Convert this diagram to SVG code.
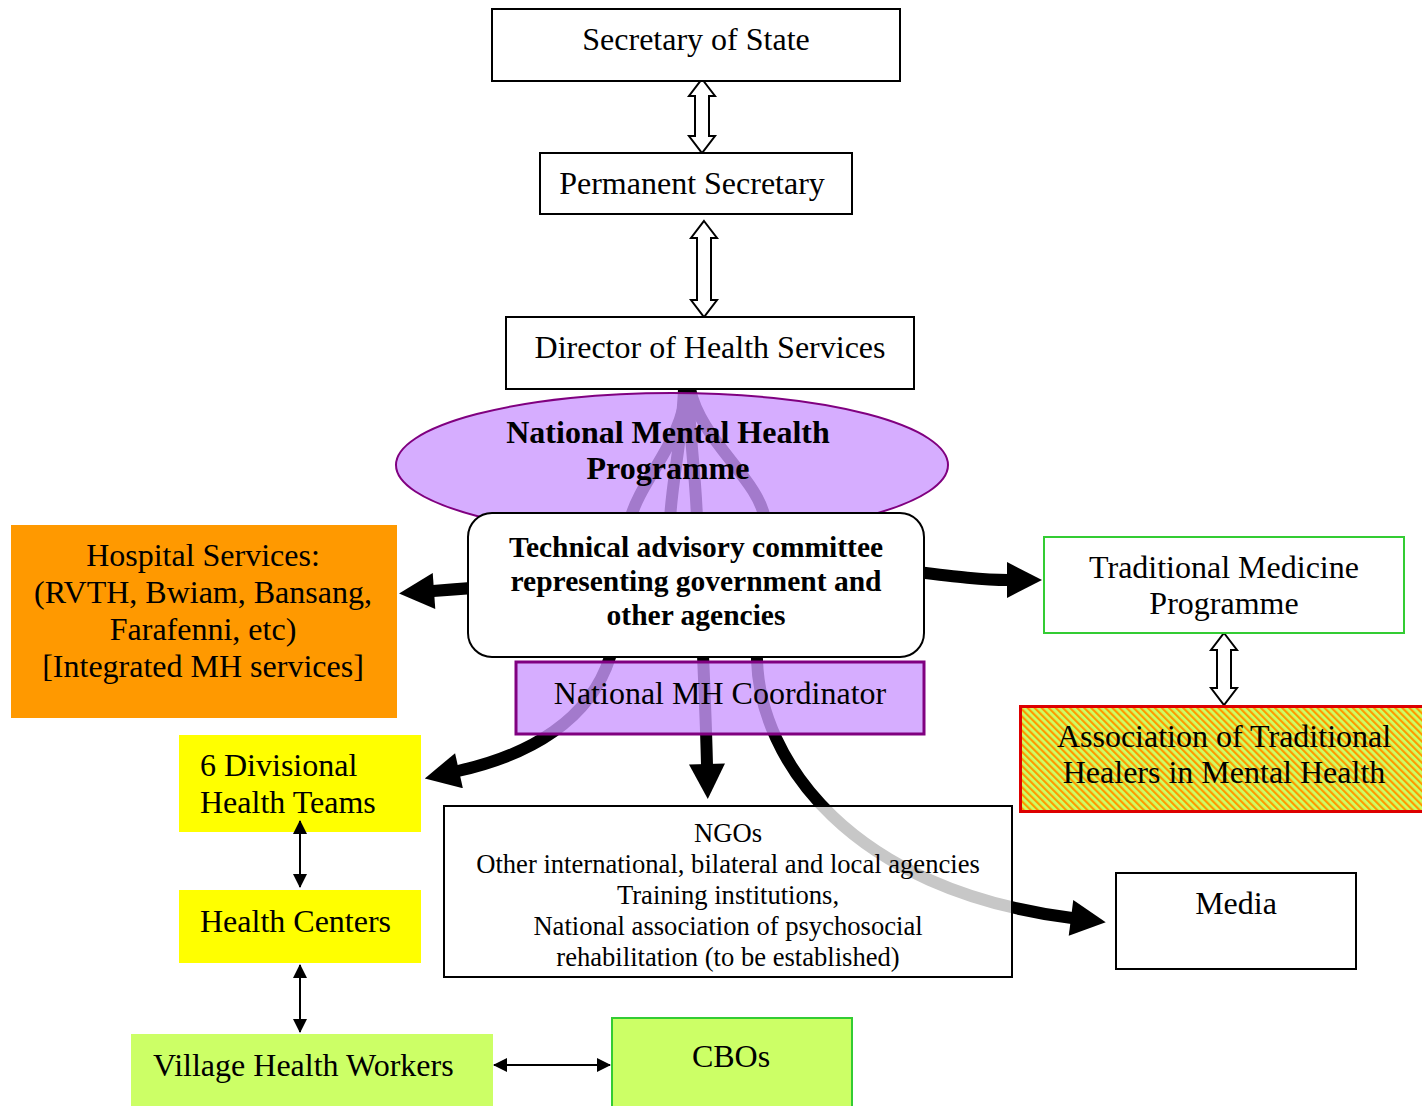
<svg xmlns="http://www.w3.org/2000/svg" width="1422" height="1106" viewBox="0 0 1422 1106">
<style>
text{font-family:"Liberation Serif","Times New Roman",serif;fill:#000}
.t{font-size:32px}
.b{font-size:32px;font-weight:bold}
.tb{font-size:29.5px;font-weight:bold}
.s{font-size:26.6px}
.c{text-anchor:middle}
.box{fill:#fff;stroke:#000;stroke-width:2}
.hollow{fill:#fff;stroke:#000;stroke-width:2;stroke-linejoin:miter}
.thick{fill:none;stroke:#000;stroke-width:12}
.thin{fill:none;stroke:#000;stroke-width:2}
</style>
<defs>
<marker id="big" markerUnits="userSpaceOnUse" markerWidth="36" markerHeight="36" viewBox="0 0 35 36" refX="1" refY="18" orient="auto">
<path d="M0,0 L35,18 L0,36 z" fill="#000"/>
</marker>
<marker id="sm" markerUnits="userSpaceOnUse" markerWidth="14" markerHeight="16" viewBox="0 0 14 16" refX="13" refY="8" orient="auto-start-reverse">
<path d="M0,1 L14,8 L0,15 z" fill="#000"/>
</marker>
<pattern id="hatch" patternUnits="userSpaceOnUse" width="5" height="5" patternTransform="rotate(-45)">
<rect width="5" height="5" fill="#ccff66"/>
<rect width="2.2" height="5" fill="#ff9900"/>
</pattern>
</defs>

<g id="connectors">
<path class="thick" d="M686,389 C684,440 640,480 630,520 C620,560 625,620 610,657 C590,720 530,755 458,771" marker-end="url(#big)"/>
<path class="thick" d="M688,389 C690,440 696,480 697,520 C700,600 705,680 707,765" marker-end="url(#big)"/>
<path class="thick" d="M684,389 C682,440 672,480 670,520 C665,570 560,582 433,591" marker-end="url(#big)"/>
<path class="thick" d="M690,389 C700,440 760,480 765,520 C770,570 755,620 757,660 C760,760 850,890 1072,918" marker-end="url(#big)"/>
<path class="thick" d="M900,570 C950,576 980,580 1008,580" marker-end="url(#big)"/>
<polygon class="hollow" points="702,79 715,96 709,96 709,136 715,136 702,153 689,136 695,136 695,96 689,96"/>
<polygon class="hollow" points="704,221 717,238 711,238 711,300 717,300 704,317 691,300 697,300 697,238 691,238"/>
<polygon class="hollow" points="1224,633 1237,650 1231,650 1231,688 1237,688 1224,705 1211,688 1217,688 1217,650 1211,650"/>
</g>

<g id="secretary">
<rect class="box" x="492" y="9" width="408" height="72"/>
<text class="t c" x="696" y="50">Secretary of State</text>
</g>
<g id="permanent">
<rect class="box" x="540" y="153" width="312" height="61"/>
<text class="t c" x="692" y="194">Permanent Secretary</text>
</g>
<g id="director">
<rect class="box" x="506" y="317" width="408" height="72"/>
<text class="t c" x="710" y="358">Director of Health Services</text>
</g>
<g id="nmhp">
<ellipse cx="672" cy="465" rx="276" ry="72" fill="#cc99ff" fill-opacity="0.8" stroke="#800080" stroke-width="2"/>
<text class="b c" x="668" y="443">National Mental Health</text>
<text class="b c" x="668" y="479">Programme</text>
</g>
<g id="tac">
<rect x="468" y="513" width="456" height="144" rx="24" fill="#fff" stroke="#000" stroke-width="2"/>
<text class="tb c" x="696" y="557">Technical advisory committee</text>
<text class="tb c" x="696" y="591">representing government and</text>
<text class="tb c" x="696" y="625">other agencies</text>
</g>
<g id="coordinator">
<rect x="516" y="662" width="408" height="72" fill="#cc99ff" fill-opacity="0.8" stroke="#800080" stroke-width="3"/>
<text class="t c" x="720" y="704">National MH Coordinator</text>
</g>
<g id="hospital">
<rect x="11" y="525" width="386" height="193" fill="#ff9900"/>
<text class="t c" x="203" y="566">Hospital Services:</text>
<text class="t c" x="203" y="603">(RVTH, Bwiam, Bansang,</text>
<text class="t c" x="203" y="640">Farafenni, etc)</text>
<text class="t c" x="203" y="677">[Integrated MH services]</text>
</g>
<g id="tradmed">
<rect x="1044" y="537" width="360" height="96" fill="#fff" stroke="#33cc33" stroke-width="2"/>
<text class="t c" x="1224" y="578">Traditional Medicine</text>
<text class="t c" x="1224" y="614">Programme</text>
</g>
<g id="association">
<rect x="1020.5" y="706.5" width="404" height="105" fill="url(#hatch)" stroke="#dd0000" stroke-width="3"/>
<text class="t c" x="1224" y="747">Association of Traditional</text>
<text class="t c" x="1224" y="783">Healers in Mental Health</text>
</g>
<g id="divisional">
<rect x="179" y="735" width="242" height="97" fill="#ffff00"/>
<text class="t" x="200" y="776">6 Divisional</text>
<text class="t" x="200" y="813">Health Teams</text>
</g>
<g id="ngos">
<rect x="444" y="806" width="568" height="171" fill="#fff" fill-opacity="0.78" stroke="#000" stroke-width="2"/>
<text class="s c" x="728" y="842">NGOs</text>
<text class="s c" x="728" y="873">Other international, bilateral and local agencies</text>
<text class="s c" x="728" y="904">Training institutions,</text>
<text class="s c" x="728" y="935">National association of psychosocial</text>
<text class="s c" x="728" y="966">rehabilitation (to be established)</text>
</g>
<g id="media">
<rect class="box" x="1116" y="873" width="240" height="96"/>
<text class="t c" x="1236" y="914">Media</text>
</g>
<g id="healthcenters">
<rect x="179" y="890" width="242" height="73" fill="#ffff00"/>
<text class="t" x="200" y="932">Health Centers</text>
</g>
<g id="vhw">
<rect x="131" y="1034" width="362" height="72" fill="#ccff66"/>
<text class="t" x="153" y="1076">Village Health Workers</text>
</g>
<g id="cbos">
<rect x="612" y="1018" width="240" height="90" fill="#ccff66" stroke="#33cc33" stroke-width="2"/>
<text class="t c" x="731" y="1067">CBOs</text>
</g>

<g id="connectors-thin">
<path class="thin" d="M300,821 L300,887" marker-start="url(#sm)" marker-end="url(#sm)"/>
<path class="thin" d="M300,965 L300,1032" marker-start="url(#sm)" marker-end="url(#sm)"/>
<path class="thin" d="M494,1065 L610,1065" marker-start="url(#sm)" marker-end="url(#sm)"/>
</g>
</svg>
